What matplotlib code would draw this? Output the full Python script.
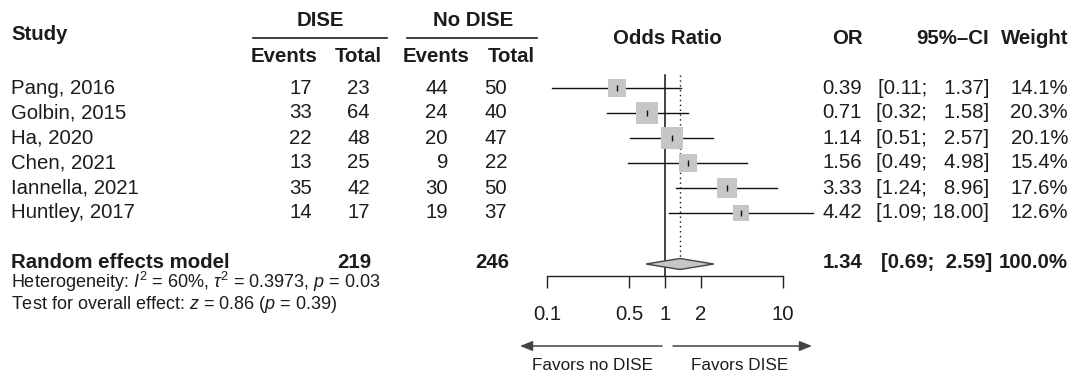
import numpy as np
import matplotlib
matplotlib.use("Agg")
import matplotlib.pyplot as plt
from matplotlib.patches import Polygon

plt.rcParams['font.family'] = ['Liberation Sans', 'DejaVu Sans']
plt.rcParams['mathtext.fontset'] = 'custom'
plt.rcParams['mathtext.rm'] = 'Liberation Sans'
plt.rcParams['mathtext.it'] = 'Liberation Sans:italic'

# data
studies = ["Pang, 2016", "Golbin, 2015", "Ha, 2020", "Chen, 2021",
           "Iannella, 2021", "Huntley, 2017"]
dise_events = [17, 33, 22, 13, 35, 14]
dise_total = [23, 64, 48, 25, 42, 17]
nodise_events = [44, 24, 20, 9, 30, 19]
nodise_total = [50, 40, 47, 22, 50, 37]
odds = [0.39, 0.71, 1.14, 1.56, 3.33, 4.42]
ci_low = [0.11, 0.32, 0.51, 0.49, 1.24, 1.09]
ci_high = [1.37, 1.58, 2.57, 4.98, 8.96, 18.00]
weights = [14.1, 20.3, 20.1, 15.4, 17.6, 12.6]

pooled_or = 1.34
pooled_low = 0.69
pooled_high = 2.59
pooled_dise_total = 219
pooled_nodise_total = 246

xticks = [0.1, 0.5, 1, 2, 10]
xtick_labels = ["0.1", "0.5", "1", "2", "10"]

TXT = "#1c1c1c"
FS = 14.7
FS_SMALL = 13.0
FS_FAV = 12.3

fig = plt.figure(figsize=(10.75, 3.76), dpi=100)

# text layer in pixel coordinates
ax = fig.add_axes([0, 0, 1, 1])
ax.set_xlim(0, 1075)
ax.set_ylim(376, 0)
ax.axis("off")

# forest layer: log odds ratio axis
axis_y = 276
fx0, fx1 = 547, 783
axf = fig.add_axes([fx0 / 1075, (376 - axis_y) / 376, (fx1 - fx0) / 1075, axis_y / 376])
axf.set_xscale("log")
axf.set_xlim(0.1, 10)
axf.set_ylim(axis_y, 0)
axf.patch.set_visible(False)
for s in ["top", "left", "right"]:
    axf.spines[s].set_visible(False)
axf.spines["bottom"].set_color("#222222")
axf.spines["bottom"].set_linewidth(1.0)
axf.set_yticks([])
axf.set_xticks(xticks)
axf.set_xticklabels(xtick_labels)
axf.minorticks_off()
axf.tick_params(axis="x", direction="out", length=8.6, width=1.0, color="#222222",
                pad=12.5, labelsize=FS, labelcolor=TXT)

row_y = [88, 113, 138, 163, 188, 213]
sum_y = 264
sum_base = 268

# header
ax.text(11, 35, "Study", fontsize=FS, fontweight="bold", color=TXT, va="center")
ax.text(320, 20, "DISE", fontsize=FS, fontweight="bold", color=TXT, va="center", ha="center")
ax.text(473, 20, "No DISE", fontsize=FS, fontweight="bold", color=TXT, va="center", ha="center")
ax.plot([253, 387], [38, 38], color=TXT, lw=1.2)
ax.plot([407, 537], [38, 38], color=TXT, lw=1.2)
for x, lab in [(317, "Events"), (382, "Total"), (470, "Events"), (535, "Total")]:
    ax.text(x, 56, lab, fontsize=FS, fontweight="bold", color=TXT, va="center", ha="right")
ax.text(667, 39, "Odds Ratio", fontsize=FS, fontweight="bold", color=TXT, va="center", ha="center")
ax.text(863, 39, "OR", fontsize=FS, fontweight="bold", color=TXT, va="center", ha="right")
ax.text(989, 39, "95%\u2013CI", fontsize=FS, fontweight="bold", color=TXT, va="center", ha="right")
ax.text(1068, 39, "Weight", fontsize=FS, fontweight="bold", color=TXT, va="center", ha="right")

# study rows
for i, y in enumerate(row_y):
    ax.text(11, y, studies[i], fontsize=FS, color=TXT, va="center")
    ax.text(312, y, str(dise_events[i]), fontsize=FS, color=TXT, va="center", ha="right")
    ax.text(370, y, str(dise_total[i]), fontsize=FS, color=TXT, va="center", ha="right")
    ax.text(448, y, str(nodise_events[i]), fontsize=FS, color=TXT, va="center", ha="right")
    ax.text(507, y, str(nodise_total[i]), fontsize=FS, color=TXT, va="center", ha="right")
    ax.text(862, y, f"{odds[i]:.2f}", fontsize=FS, color=TXT, va="center", ha="right")
    pad = " \u2007" if ci_high[i] < 10 else " "
    ax.text(989, y, f"[{ci_low[i]:.2f};{pad}{ci_high[i]:.2f}]", fontsize=FS, color=TXT,
            va="center", ha="right")
    ax.text(1068, y, f"{weights[i]:.1f}%", fontsize=FS, color=TXT, va="center", ha="right")

    axf.plot([ci_low[i], ci_high[i]], [y, y], color="#111111", lw=1.0, clip_on=False, zorder=2)
    side_px = 4.77 * np.sqrt(weights[i])
    axf.scatter([odds[i]], [y], marker="s", s=(side_px * 0.72) ** 2, color="#c6c6c6",
                linewidths=0, zorder=3, clip_on=False)
    axf.scatter([odds[i]], [y], marker="|", s=(6 * 0.72) ** 2, color="#111111",
                linewidths=1.0, zorder=4, clip_on=False)

# reference lines
axf.plot([1, 1], [75, axis_y], color="#111111", lw=1.1, clip_on=False, zorder=1)
axf.plot([pooled_or, pooled_or], [75, sum_y - 6], color="#111111", lw=1.0,
         linestyle=(0, (1, 2.5)), clip_on=False, zorder=1)

# pooled diamond
diamond = Polygon([[pooled_low, sum_y], [pooled_or, sum_y - 5.5],
                   [pooled_high, sum_y], [pooled_or, sum_y + 5.5]],
                  closed=True, facecolor="#c6c6c6", edgecolor="#444444", lw=1.0, zorder=3)
axf.add_patch(diamond)

# pooled row text
bold = dict(fontsize=FS, fontweight="bold", color=TXT, va="baseline")
ax.text(11, sum_base, "Random effects model", **bold)
ax.text(371, sum_base, str(pooled_dise_total), ha="right", **bold)
ax.text(509, sum_base, str(pooled_nodise_total), ha="right", **bold)
ax.text(862, sum_base, f"{pooled_or:.2f}", ha="right", **bold)
ax.text(992, sum_base, f"[{pooled_low:.2f};  {pooled_high:.2f}]", ha="right", **bold)
ax.text(1068, sum_base, "100.0%", ha="right", **bold)

ax.text(11, 288.5, r"Heterogeneity: $I^2$ = 60%, $\tau^2$ = 0.3973, $p$ = 0.03",
        fontsize=FS_SMALL, color=TXT, va="baseline")
ax.text(11, 309, r"Test for overall effect: $z$ = 0.86 ($p$ = 0.39)",
        fontsize=FS_SMALL, color=TXT, va="baseline")

# direction arrows
arrow_kw = dict(arrowstyle="-|>,head_length=0.75,head_width=0.3", color="#444444", lw=1.1,
                shrinkA=0, shrinkB=0)
ax.annotate("", xy=(520, 346), xytext=(662, 346), arrowprops=arrow_kw)
ax.annotate("", xy=(812, 346), xytext=(673, 346), arrowprops=arrow_kw)
ax.text(592, 366, "Favors no DISE", fontsize=FS_FAV, color=TXT, va="center", ha="center")
ax.text(740, 366, "Favors DISE", fontsize=FS_FAV, color=TXT, va="center", ha="center")

fig.savefig("out.png", dpi=100)
